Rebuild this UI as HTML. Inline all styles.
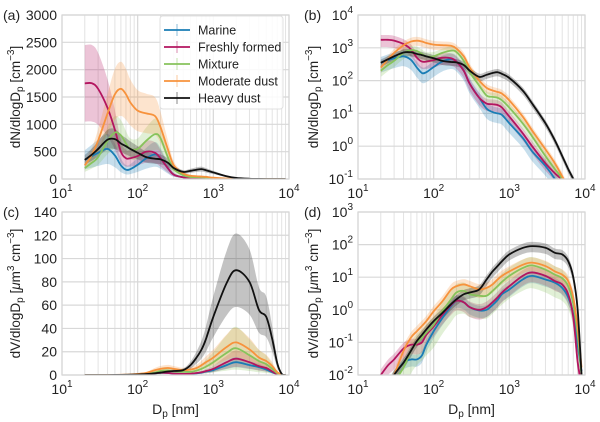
<!DOCTYPE html>
<html><head><meta charset="utf-8"><style>
html,body{margin:0;padding:0;background:#fff;}
svg{display:block;font-family:"Liberation Sans",Arial,sans-serif;}
</style></head><body>
<svg id="fig" width="600" height="422" viewBox="0 0 600 422"></svg>
<script>
const xs=[20,25,30,40,50,60,70,80,100,130,170,200,250,300,400,500,600,700,800,1000,1500,2000,3000,4000,5000,6000,7000,8000,9000];
const seriesNames=['Marine','Freshly formed','Mixture','Moderate dust','Heavy dust'];
const nMarine=[350,420,480,550,430,250,170,180,260,380,450,380,200,80,30,14,11,10,9,5,1.8,0.7,0.25,0.1,0.04,0.015,0.006,0.002,0.001];
const nFresh=[1750,1750,1650,1300,900,500,380,380,420,500,480,380,200,80,30,20,19,18,15,8,2.5,1,0.3,0.15,0.09,0.04,0.015,0.005,0.002];
const nMixture=[200,300,400,700,850,800,650,550,550,700,820,750,400,180,70,35,32,30,25,15,5,2,0.5,0.2,0.1,0.04,0.02,0.01,0.005];
const nModerate=[250,450,700,1200,1550,1650,1550,1400,1250,1200,1150,950,550,250,100,60,50,45,40,25,8,3,0.8,0.3,0.12,0.05,0.02,0.01,0.005];
const nHeavy=[350,450,550,720,730,650,600,550,480,400,370,360,300,200,130,150,170,180,160,120,50,20,5,1.5,0.5,0.2,0.1,0.05,0.02];
const vMarine=[0.002,0.005,0.01,0.024,0.03,0.03,0.04,0.085,0.22,0.55,1.3,1.9,1.7,1.2,0.95,1,1.4,2,3,4.2,8.5,11,8.5,6.8,4.7,2.4,0.75,0.085,0.013];
const vFresh=[0.01,0.02,0.03,0.065,0.085,0.085,0.1,0.17,0.31,0.7,1.4,1.9,1.7,1.2,1,1.2,1.7,2.4,3.4,5.3,11,14,11,7.6,6,3,0.6,0.025,0.005];
const vMixture=[0.001,0.003,0.006,0.017,0.055,0.1,0.14,0.2,0.35,0.9,2.1,3.4,3.8,3,2.7,2.7,3.8,5.3,7.2,11,19,23,17,12,9.3,5.3,1.5,0.17,0.01];
const vModerate=[0.002,0.005,0.01,0.055,0.14,0.22,0.32,0.45,0.9,1.8,4.2,5.3,6,5.3,4.2,4.7,6,8.5,11,15,24,28,22,15,12,7.6,2.4,0.28,0.017];
const vHeavy=[0.001,0.004,0.01,0.024,0.055,0.11,0.17,0.25,0.45,0.8,1.5,2.1,3,3.4,4.2,8.5,15,22,31,50,79,90,80,56,50,31,10,1,0.01];
const errN=[0.5,0.4,0.35,0.3,0.25];
const errV=[0.4,0.5,0.8,0.45,0.35];
const colors=['#1a7db5','#b3155f','#87c35b','#f7923c','#111111'];

const NS='http://www.w3.org/2000/svg';
const svg=document.getElementById('fig');
function mk(tag,attrs,parent){const e=document.createElementNS(NS,tag);for(const k in attrs)e.setAttribute(k,attrs[k]);(parent||svg).appendChild(e);return e;}
function smooth(pts){let d='M'+pts[0][0].toFixed(2)+','+pts[0][1].toFixed(2);
 for(let i=0;i<pts.length-1;i++){const p0=pts[Math.max(0,i-1)],p1=pts[i],p2=pts[i+1],p3=pts[Math.min(pts.length-1,i+2)];
  const c1=[p1[0]+(p2[0]-p0[0])/6,p1[1]+(p2[1]-p0[1])/6],c2=[p2[0]-(p3[0]-p1[0])/6,p2[1]-(p3[1]-p1[1])/6];
  d+=' C'+c1[0].toFixed(2)+','+c1[1].toFixed(2)+' '+c2[0].toFixed(2)+','+c2[1].toFixed(2)+' '+p2[0].toFixed(2)+','+p2[1].toFixed(2);}
 return d;}
function powLabel(parent,x,y,exp,anchor,name){
 const t=mk('text',{x:x,y:y,'font-size':14,fill:'#222','text-anchor':anchor},parent);
 
 
 t.appendChild(document.createTextNode('10'));
 const s=mk('tspan',{dy:-7,'font-size':10},t);s.textContent=String(exp);return t;}

function panel(p){
 const g=mk('g',{});
 
 
 const X=v=>p.x0+(Math.log10(v)-1)/3*(p.x1-p.x0);
 const Y=p.log?(v=>p.y1-(Math.log10(Math.max(v,1e-6))-p.ymin)/(p.ymax-p.ymin)*(p.y1-p.y0)):(v=>p.y1-(v-p.ymin)/(p.ymax-p.ymin)*(p.y1-p.y0));
 for(let d=1;d<4;d++)for(let m=2;m<=9;m++){const x=X(m*Math.pow(10,d));mk('line',{x1:x,x2:x,y1:p.y0,y2:p.y1,stroke:'#e3e3e3','stroke-width':1},g);}
 for(let d=1;d<=4;d++){const x=X(Math.pow(10,d));mk('line',{x1:x,x2:x,y1:p.y0,y2:p.y1,stroke:'#d8d8d8','stroke-width':1.2},g);
  powLabel(g,x,p.y1+19,d,'middle','x-tick-label');}
 p.yticks.forEach(t=>{const y=Y(p.log?Math.pow(10,t):t);mk('line',{x1:p.x0,x2:p.x1,y1:y,y2:y,stroke:'#d8d8d8','stroke-width':1.2},g);
  if(p.log)powLabel(g,p.x0-5,y+5,t,'end','y-tick-label');
  else{const tl=mk('text',{x:p.x0-5,y:y+5,'font-size':14,fill:'#222','text-anchor':'end'},g);tl.textContent=String(t);
   
   }});
 const cid='clip-'+p.id;const cp=mk('clipPath',{id:cid},g);mk('rect',{x:p.x0,y:p.y0,width:p.x1-p.x0,height:p.y1-p.y0},cp);
 const dg=mk('g',{'clip-path':'url(#'+cid+')'},g);
 p.data.forEach((arr,i)=>{
  const e=p.err[i];
  const up=xs.map((x,k)=>[X(x),Y(arr[k]*(1+e))]);
  const lo=xs.map((x,k)=>[X(x),Y(Math.max(arr[k]*(1-e),1e-6))]).reverse();
  const band=mk('path',{d:smooth(up)+' L'+smooth(lo).slice(1)+' Z',fill:colors[i],'fill-opacity':0.25,stroke:'none'},dg);
  
  
 });
 p.data.forEach((arr,i)=>{
  const ln=mk('path',{d:smooth(xs.map((x,k)=>[X(x),Y(arr[k])])),fill:'none',stroke:colors[i],'stroke-width':1.8},dg);
  
  
 });
 mk('rect',{x:p.x0,y:p.y0,width:p.x1-p.x0,height:p.y1-p.y0,fill:'none',stroke:'#d6d6d6','stroke-width':1.2},g);
 const lt=mk('text',{x:p.lx,y:p.ly,'font-size':14,fill:'#222'},g);lt.textContent='('+p.id+')';
 
 
 const yl=mk('text',{x:0,y:0,'font-size':13.5,fill:'#222','text-anchor':'middle',transform:'translate('+p.yx+','+((p.y0+p.y1)/2)+') rotate(-90)'},g);
 yl.innerHTML=p.ylabel;
 
 
 if(p.xlabel){const xl=mk('text',{x:(p.x0+p.x1)/2,y:p.y1+39,'font-size':14,fill:'#222','text-anchor':'middle'},g);
  xl.innerHTML='D<tspan font-size="10" dy="3">p</tspan><tspan dy="-3"> [nm]</tspan>';
  
  }
}
const nData=[nMarine,nFresh,nMixture,nModerate,nHeavy];
const vData=[vMarine,vFresh,vMixture,vModerate,vHeavy];
const nLab='dN/dlogD<tspan font-size="10" dy="3">p</tspan><tspan dy="-3"> [cm</tspan><tspan font-size="10" dy="-6">−3</tspan><tspan dy="6">]</tspan>';
const vLab='dV/dlogD<tspan font-size="10" dy="3">p</tspan><tspan dy="-3"> [</tspan><tspan font-style="italic">μ</tspan><tspan>m</tspan><tspan font-size="10" dy="-6">3</tspan><tspan dy="6"> cm</tspan><tspan font-size="10" dy="-6">−3</tspan><tspan dy="6">]</tspan>';
panel({id:'a',x0:62,x1:289,y0:15,y1:179,log:false,ymin:0,ymax:3000,yticks:[0,500,1000,1500,2000,2500,3000],data:nData,err:errN,lx:3,ly:20,yx:20,ylabel:nLab});
panel({id:'b',x0:358,x1:585,y0:15,y1:179,log:true,ymin:-1,ymax:4,yticks:[-1,0,1,2,3,4],data:nData,err:errN,lx:304,ly:20,yx:318,ylabel:nLab});
panel({id:'c',x0:62,x1:289,y0:212,y1:375,log:false,ymin:0,ymax:140,yticks:[0,20,40,60,80,100,120,140],data:vData,err:errV,lx:3,ly:217,yx:20,ylabel:vLab,xlabel:true});
panel({id:'d',x0:358,x1:585,y0:212,y1:375,log:true,ymin:-2,ymax:3,yticks:[-2,-1,0,1,2,3],data:vData,err:errV,lx:304,ly:217,yx:318,ylabel:vLab,xlabel:true});
const lg=mk('g',{});


mk('rect',{x:160,y:16,width:123,height:93,fill:'#fff','fill-opacity':0.85,stroke:'#e0e0e0',rx:3},lg);
seriesNames.forEach((n,i)=>{const y=30+i*17;
 const e=mk('g',{},lg);
 
 
 mk('line',{x1:164,x2:190,y1:y,y2:y,stroke:colors[i],'stroke-width':1.8},e);
 mk('line',{x1:177,x2:177,y1:y-6,y2:y+6,stroke:colors[i],'stroke-width':1,'stroke-opacity':0.5},e);
 const t=mk('text',{x:198,y:y+4.5,'font-size':12.5,fill:'#222'},e);t.textContent=n;});
</script>
</body></html>
